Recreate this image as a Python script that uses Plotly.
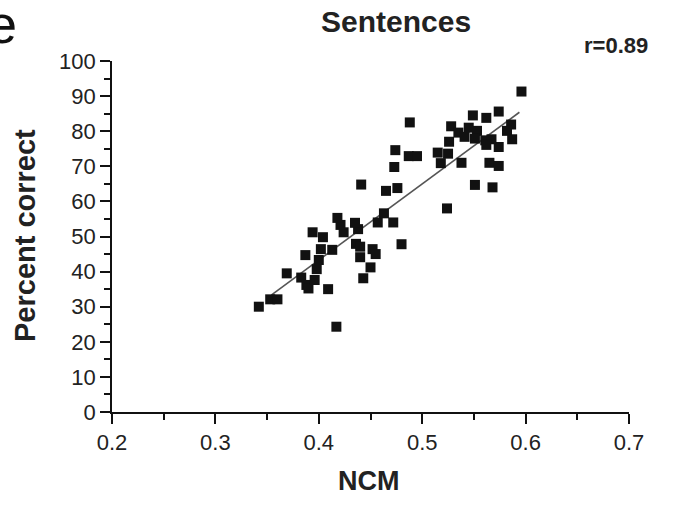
import plotly.graph_objects as go

# ---- data ----
ncm = [0.342, 0.353, 0.360, 0.369, 0.383, 0.388, 0.390, 0.396, 0.398, 0.400,
       0.387, 0.402, 0.413, 0.404, 0.394, 0.409, 0.417, 0.424, 0.421, 0.418,
       0.436, 0.440, 0.440, 0.452, 0.455, 0.450, 0.443, 0.438, 0.435, 0.457,
       0.472, 0.480, 0.463, 0.441, 0.465, 0.476, 0.473, 0.474, 0.487, 0.495,
       0.488,
       0.515, 0.525, 0.526, 0.518, 0.538, 0.551, 0.568, 0.524, 0.528, 0.535,
       0.545, 0.541, 0.553, 0.551, 0.561, 0.567, 0.562, 0.574, 0.565, 0.574,
       0.549, 0.562, 0.574, 0.586, 0.582, 0.587, 0.596]
pct = [30.0, 32.1, 32.1, 39.5, 38.3, 36.2, 35.2, 37.6, 40.7, 43.3,
       44.7, 46.4, 46.2, 49.8, 51.2, 35.0, 24.3, 51.2, 53.3, 55.3,
       47.9, 47.1, 44.1, 46.4, 45.0, 41.2, 38.1, 52.1, 53.9, 54.0,
       54.0, 47.8, 56.6, 64.8, 63.0, 63.8, 69.8, 74.6, 72.9, 72.9,
       82.5,
       73.9, 73.6, 77.0, 70.9, 71.0, 64.7, 64.0, 58.0, 81.4, 79.6,
       81.0, 78.4, 80.1, 77.9, 77.4, 77.7, 76.1, 75.5, 71.0, 70.1,
       84.5, 83.8, 85.6, 81.9, 80.1, 77.7, 91.3]
fit_x = [0.354, 0.594]
fit_y = [33.3, 85.4]
x_ticks = [0.2, 0.3, 0.4, 0.5, 0.6, 0.7]
x_tick_labels = ["0.2", "0.3", "0.4", "0.5", "0.6", "0.7"]
y_ticks = [0, 10, 20, 30, 40, 50, 60, 70, 80, 90, 100]
y_tick_labels = [str(v) for v in y_ticks]

FONT = "Liberation Sans, Arial, sans-serif"
W, H = 674, 505
L, R, T, B = 112, 45, 61, 93
PW, PH = W - L - R, H - T - B


def px(xp):
    return (xp - L) / PW


def py(yp):
    return (H - B - yp) / PH


fig = go.Figure()
fig.add_trace(go.Scatter(x=fit_x, y=fit_y, mode="lines",
                         line=dict(color="#555555", width=1.6),
                         hoverinfo="skip", showlegend=False))
fig.add_trace(go.Scatter(x=ncm, y=pct, mode="markers",
                         marker=dict(symbol="square", size=10, color="#111111",
                                     line=dict(width=0)),
                         showlegend=False, cliponaxis=False))

axis_common = dict(showgrid=False, zeroline=False, showline=True,
                   linecolor="#111111", linewidth=1.7, ticks="outside",
                   tickcolor="#111111", tickwidth=1.7, ticklen=10,
                   tickfont=dict(family=FONT, size=22, color="#222222"))
fig.update_xaxes(range=[0.2, 0.7], tickvals=x_ticks, ticktext=x_tick_labels,
                 minor=dict(dtick=0.05, ticks="outside", ticklen=6,
                            tickwidth=1.7, tickcolor="#111111", showgrid=False),
                 **axis_common)
fig.update_yaxes(range=[0, 100], tickvals=y_ticks, ticktext=y_tick_labels,
                 minor=dict(dtick=5, ticks="outside", ticklen=6,
                            tickwidth=1.7, tickcolor="#111111", showgrid=False),
                 **axis_common)

ann = []
ann.append(dict(text="<b>Sentences</b>", x=px(396), y=py(22), xref="paper",
                yref="paper", xanchor="center", yanchor="middle",
                showarrow=False, font=dict(family=FONT, size=30, color="#222222")))
ann.append(dict(text="<b>r=0.89</b>", x=px(616), y=py(46), xref="paper",
                yref="paper", xanchor="center", yanchor="middle",
                showarrow=False, font=dict(family=FONT, size=22, color="#222222")))
ann.append(dict(text="<b>Percent correct</b>", x=px(25), y=py(236), xref="paper",
                yref="paper", xanchor="center", yanchor="middle", textangle=-90,
                showarrow=False, font=dict(family=FONT, size=29, color="#222222")))
ann.append(dict(text="<b>NCM</b>", x=px(369), y=py(481), xref="paper",
                yref="paper", xanchor="center", yanchor="middle",
                showarrow=False, font=dict(family=FONT, size=27, color="#222222")))
ann.append(dict(text="e", x=px(-15), y=py(24), xref="paper",
                yref="paper", xanchor="left", yanchor="middle",
                showarrow=False, font=dict(family=FONT, size=54, color="#111111")))

fig.update_layout(width=W, height=H, margin=dict(l=L, r=R, t=T, b=B),
                  paper_bgcolor="white", plot_bgcolor="white",
                  annotations=ann, showlegend=False)
fig.write_html("out.html")
